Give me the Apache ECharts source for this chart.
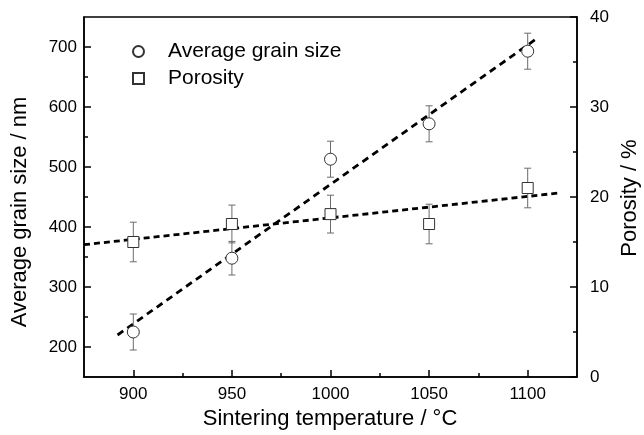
<!DOCTYPE html>
<html>
<head>
<meta charset="utf-8">
<script src="https://cdn.jsdelivr.net/npm/echarts@6/dist/echarts.min.js"></script>
<style>html,body{margin:0;padding:0;background:#fff;}#c{width:644px;height:435px;}</style>
</head>
<body>
<div id="c"></div>
<script>
// ---- data ----
const temps = [900, 950, 1000, 1050, 1100];
const grainSize = [225, 348, 513, 572, 693];
const grainErr = [30, 28, 30, 30, 30];
const porosity = [15.0, 17.0, 18.1, 17.0, 21.0];
const porosityErr = [2.2, 2.1, 2.1, 2.2, 2.2];
const grainFitX = [892, 1105];
const grainFitY = [220, 715];
const porosityFitX = [875, 1116];
const porosityFitY = [14.7, 20.45];
const xLabels = [900, 950, 1000, 1050, 1100];
const xMinor = [925, 975, 1025, 1075];
const leftLabels = [200, 300, 400, 500, 600, 700];
const leftMinor = [250, 350, 450, 550, 650];
const rightLabels = [0, 10, 20, 30, 40];
const rightMinor = [5, 15, 25, 35];

const FONT = '"Liberation Sans", Arial, Helvetica, sans-serif';
const chart = echarts.init(document.getElementById('c'), null, {renderer: 'canvas'});

function errData(xs, vs, es) { return xs.map((x, i) => [x, vs[i] - es[i], vs[i] + es[i]]); }
function zip(a, b) { return a.map((v, i) => [v, b[i]]); }

function errRender(params, api) {
  const x = api.value(0), lo = api.value(1), hi = api.value(2);
  const p1 = api.coord([x, hi]), p2 = api.coord([x, lo]);
  const hw = 3.5;
  const st = {stroke: '#6b6b6b', lineWidth: 1};
  return {type: 'group', children: [
    {type: 'line', shape: {x1: p1[0], y1: p1[1], x2: p2[0], y2: p2[1]}, style: st},
    {type: 'line', shape: {x1: p1[0] - hw, y1: p1[1], x2: p1[0] + hw, y2: p1[1]}, style: st},
    {type: 'line', shape: {x1: p2[0] - hw, y1: p2[1], x2: p2[0] + hw, y2: p2[1]}, style: st}
  ]};
}

const axisLineStyle = {color: '#000', width: 1.5};
const labelStyle = {color: '#000', fontSize: 17, fontFamily: FONT, formatter: v => String(v)};

const option = {
  animation: false,
  backgroundColor: '#fff',
  grid: {left: 84, right: 67, top: 17, bottom: 58, show: true, borderColor: '#000', borderWidth: 1.5, backgroundColor: 'transparent'},
  legend: {
    orient: 'vertical', left: 127, top: 36,
    itemWidth: 11, itemHeight: 11, itemGap: 6,
    data: ['Average grain size', 'Porosity'],
    textStyle: {color: '#000', fontSize: 21, fontFamily: FONT, padding: [0, 0, 0, 19]},
    selectedMode: false
  },
  xAxis: [
    {type: 'value', min: 875, max: 1125, interval: 25, position: 'bottom',
     axisLine: {lineStyle: axisLineStyle},
     axisTick: {inside: true, length: 7, lineStyle: {color: '#000', width: 1.5}, customValues: xLabels},
     axisLabel: {customValues: xLabels, margin: 9, ...labelStyle},
     splitLine: {show: false}},
    {type: 'value', min: 875, max: 1125, interval: 25, position: 'bottom',
     axisLine: {show: false},
     axisTick: {inside: true, length: 4, lineStyle: {color: '#000', width: 1.5}, customValues: xMinor},
     axisLabel: {show: false}, splitLine: {show: false}}
  ],
  yAxis: [
    {type: 'value', min: 150, max: 750, interval: 50, position: 'left',
     axisLine: {show: true, lineStyle: axisLineStyle},
     axisTick: {inside: true, length: 7, lineStyle: {color: '#000', width: 1.5}, customValues: leftLabels},
     axisLabel: {customValues: leftLabels, margin: 7, ...labelStyle},
     splitLine: {show: false}},
    {type: 'value', min: 150, max: 750, interval: 50, position: 'left',
     axisLine: {show: false},
     axisTick: {inside: true, length: 4, lineStyle: {color: '#000', width: 1.5}, customValues: leftMinor},
     axisLabel: {show: false}, splitLine: {show: false}},
    {type: 'value', min: 0, max: 40, interval: 5, position: 'right',
     axisLine: {show: true, lineStyle: axisLineStyle},
     axisTick: {inside: true, length: 7, lineStyle: {color: '#000', width: 1.5}, customValues: rightLabels},
     axisLabel: {customValues: rightLabels, margin: 13, ...labelStyle},
     splitLine: {show: false}},
    {type: 'value', min: 0, max: 40, interval: 5, position: 'right',
     axisLine: {show: false},
     axisTick: {inside: true, length: 4, lineStyle: {color: '#000', width: 1.5}, customValues: rightMinor},
     axisLabel: {show: false}, splitLine: {show: false}}
  ],
  graphic: [
    {type: 'text', x: 330, y: 419, style: {text: 'Sintering temperature / °C', fill: '#000', font: '22px ' + FONT, textAlign: 'center', textVerticalAlign: 'middle'}},
    {type: 'text', x: 20, y: 212, rotation: Math.PI / 2, style: {text: 'Average grain size / nm', fill: '#000', font: '22px ' + FONT, textAlign: 'center', textVerticalAlign: 'middle'}},
    {type: 'text', x: 630, y: 198, rotation: Math.PI / 2, style: {text: 'Porosity / %', fill: '#000', font: '22px ' + FONT, textAlign: 'center', textVerticalAlign: 'middle'}}
  ],
  series: [
    {type: 'line', name: 'grainFit', xAxisIndex: 0, yAxisIndex: 0, data: zip(grainFitX, grainFitY), symbol: 'none', z: 1,
     lineStyle: {color: '#000', width: 2.8, type: [7, 5]}, silent: true},
    {type: 'line', name: 'porosityFit', xAxisIndex: 0, yAxisIndex: 2, data: zip(porosityFitX, porosityFitY), symbol: 'none', z: 1,
     lineStyle: {color: '#000', width: 2.8, type: [6, 4]}, silent: true},
    {type: 'custom', name: 'grainErr', xAxisIndex: 0, yAxisIndex: 0, data: errData(temps, grainSize, grainErr), renderItem: errRender, z: 2,
     encode: {x: 0, y: [1, 2]}, silent: true},
    {type: 'custom', name: 'porErr', xAxisIndex: 0, yAxisIndex: 2, data: errData(temps, porosity, porosityErr), renderItem: errRender, z: 2,
     encode: {x: 0, y: [1, 2]}, silent: true},
    {type: 'scatter', name: 'Average grain size', xAxisIndex: 0, yAxisIndex: 0, data: zip(temps, grainSize), symbol: 'circle', symbolSize: 12, z: 3,
     itemStyle: {color: '#fff', borderColor: '#333', borderWidth: 1, opacity: 1}},
    {type: 'scatter', name: 'Porosity', xAxisIndex: 0, yAxisIndex: 2, data: zip(temps, porosity), symbol: 'rect', symbolSize: 11, z: 3,
     itemStyle: {color: '#fff', borderColor: '#333', borderWidth: 1, opacity: 1}}
  ]
};
chart.setOption(option);
</script>
</body>
</html>
